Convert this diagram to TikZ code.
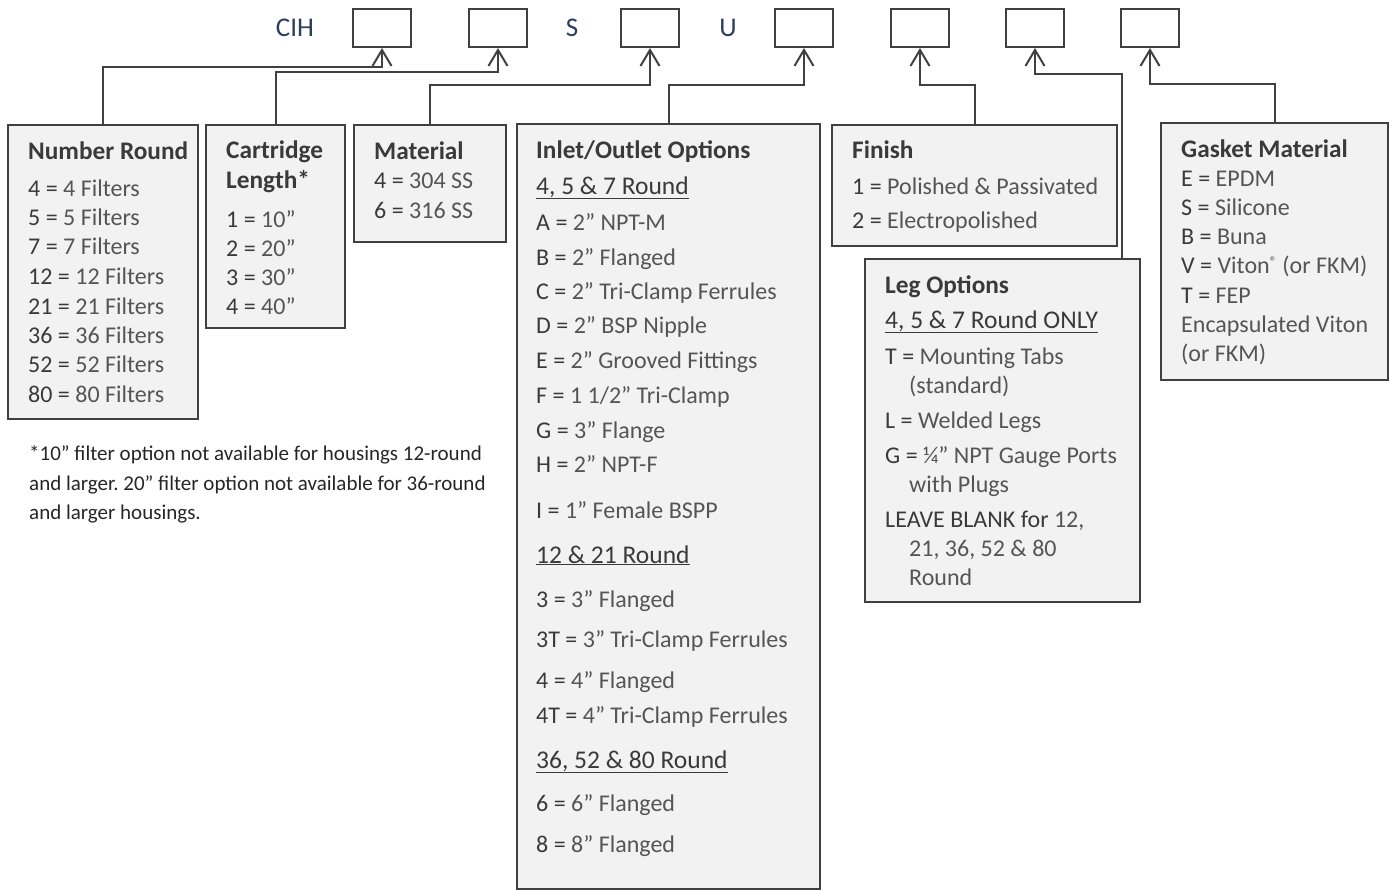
\documentclass[tikz,border=0pt]{standalone}
\usepackage{fontspec}
\setmainfont{Carlito}
\usetikzlibrary{arrows.meta}
\definecolor{linec}{HTML}{404040}
\definecolor{panelc}{HTML}{F2F2F2}
\definecolor{keyc}{HTML}{3A3A3A}
\definecolor{valc}{HTML}{555555}
\definecolor{navy}{HTML}{2B3E5E}
\definecolor{notec}{HTML}{262626}
\frenchspacing
\newcommand\bodyf{\fontsize{24}{28}\selectfont}
\newcommand\titlef{\fontsize{25.3}{30}\selectfont\bfseries}
\newcommand\notef{\fontsize{21}{25}\selectfont}
\newcommand\K[1]{\textcolor{keyc}{#1}}
\newcommand\U[1]{\textcolor{keyc}{\fontsize{25.5}{30}\selectfont\underline{#1}}}
\newcommand\reg{{\fontsize{14}{14}\selectfont\raisebox{7pt}{®}}}
\tikzset{
  slot/.style={draw=linec, line width=2pt, fill=white, minimum width=58pt, minimum height=38pt, inner sep=0pt},
  panel/.style={draw=linec, line width=2pt, fill=panelc, inner sep=0pt, anchor=north west},
  ln/.style={anchor=base west, inner sep=0pt, text=valc, font=\bodyf},
  ttl/.style={anchor=base west, inner sep=0pt, text=keyc, font=\titlef},
  note/.style={anchor=base west, inner sep=0pt, text=notec, font=\notef},
  hdr/.style={inner sep=0pt, text=navy, font=\fontsize{27}{30}\selectfont},
  conn/.style={draw=linec, line width=2pt, -{Straight Barb[length=16pt,width=19pt,line width=2pt]}}
}
\begin{document}
\begin{tikzpicture}[x=1pt,y=-1pt]
\useasboundingbox (0,0) rectangle (1389,889);
% header
\node[hdr] (cih) at (295,28) {CIH};
\node[hdr] (hs) at (572,28) {S};
\node[hdr] (hu) at (728,28) {U};
\node[slot] (s1) at (382,28) {};
\node[slot] (s2) at (498,28) {};
\node[slot] (s3) at (650,28) {};
\node[slot] (s4) at (804,28) {};
\node[slot] (s5) at (920,28) {};
\node[slot] (s6) at (1035,28) {};
\node[slot] (s7) at (1150,28) {};
% panels
\node[panel, minimum width=190pt, minimum height=294pt] (nr) at (7,124) {};
\node[panel, minimum width=139pt, minimum height=203pt] (cl) at (205,124) {};
\node[panel, minimum width=152pt, minimum height=117pt] (mt) at (353,124) {};
\node[panel, minimum width=303pt, minimum height=765pt] (io) at (516,123) {};
\node[panel, minimum width=285pt, minimum height=121pt] (fn) at (831,124) {};
\node[panel, minimum width=275pt, minimum height=343pt] (lg) at (864,258) {};
\node[panel, minimum width=227pt, minimum height=257pt] (gk) at (1160,122) {};
% connector levels
\coordinate (y67) at (0,67);
\coordinate (y72) at (0,72);
\coordinate (y85) at (0,85);
\coordinate (y74) at (0,74);
\coordinate (y84) at (0,84);
\coordinate (legx) at (1122,0);
\draw[conn] (nr.north) |- (s1.south |- y67) -- (s1.south);
\draw[conn] (cl.north) |- (s2.south |- y72) -- (s2.south);
\draw[conn] (mt.north) |- (s3.south |- y85) -- (s3.south);
\draw[conn] (io.north) |- (s4.south |- y85) -- (s4.south);
\draw[conn] (fn.north) |- (s5.south |- y85) -- (s5.south);
\draw[conn] (legx |- lg.north) |- (s6.south |- y74) -- (s6.south);
\draw[conn] (gk.north) |- (s7.south |- y84) -- (s7.south);
% Number Round
\node[ttl] (nrt) at (28,159) {Number Round};
\node[ln] (nr1) at (28,196) {\K{4 =} 4 Filters};
\node[ln] (nr2) at (28,225) {\K{5 =} 5 Filters};
\node[ln] (nr3) at (28,254) {\K{7 =} 7 Filters};
\node[ln] (nr4) at (28,284) {\K{12 =} 12 Filters};
\node[ln] (nr5) at (28,314) {\K{21 =} 21 Filters};
\node[ln] (nr6) at (28,343) {\K{36 =} 36 Filters};
\node[ln] (nr7) at (28,372) {\K{52 =} 52 Filters};
\node[ln] (nr8) at (28,402) {\K{80 =} 80 Filters};
% Cartridge
\node[ttl] (clt1) at (226,158) {Cartridge};
\node[ttl] (clt2) at (226,188) {Length*};
\node[ln] (cl1) at (226,227) {\K{1 =} 10”};
\node[ln] (cl2) at (226,256) {\K{2 =} 20”};
\node[ln] (cl3) at (226,285) {\K{3 =} 30”};
\node[ln] (cl4) at (226,314) {\K{4 =} 40”};
% Material
\node[ttl] (mtt) at (374,159) {Material};
\node[ln] (mt1) at (374,188) {\K{4 =} 304 SS};
\node[ln] (mt2) at (374,218) {\K{6 =} 316 SS};
% Inlet/Outlet
\node[ttl] (iot) at (536,158) {Inlet/Outlet Options};
\node[ln] (ioh1) at (536,194) {\U{4, 5 \& 7 Round}};
\node[ln] (io1) at (536,230) {\K{A =} 2” NPT-M};
\node[ln] (io2) at (536,265) {\K{B =} 2” Flanged};
\node[ln] (io3) at (536,299) {\K{C =} 2” Tri-Clamp Ferrules};
\node[ln] (io4) at (536,333) {\K{D =} 2” BSP Nipple};
\node[ln] (io5) at (536,368) {\K{E =} 2” Grooved Fittings};
\node[ln] (io6) at (536,403) {\K{F =} 1 1/2” Tri-Clamp};
\node[ln] (io7) at (536,438) {\K{G =} 3” Flange};
\node[ln] (io8) at (536,472) {\K{H =} 2” NPT-F};
\node[ln] (io9) at (536,518) {\K{I =} 1” Female BSPP};
\node[ln] (ioh2) at (536,563) {\U{12 \& 21 Round}};
\node[ln] (io10) at (536,607) {\K{3 =} 3” Flanged};
\node[ln] (io11) at (536,647) {\K{3T =} 3” Tri-Clamp Ferrules};
\node[ln] (io12) at (536,688) {\K{4 =} 4” Flanged};
\node[ln] (io13) at (536,723) {\K{4T =} 4” Tri-Clamp Ferrules};
\node[ln] (ioh3) at (536,768) {\U{36, 52 \& 80 Round}};
\node[ln] (io14) at (536,811) {\K{6 =} 6” Flanged};
\node[ln] (io15) at (536,852) {\K{8 =} 8” Flanged};
% Finish
\node[ttl] (fnt) at (852,158) {Finish};
\node[ln] (fn1) at (852,194) {\K{1 =} Polished \& Passivated};
\node[ln] (fn2) at (852,228) {\K{2 =} Electropolished};
% Leg options
\node[ttl] (lgt) at (885,293) {Leg Options};
\node[ln] (lgh) at (885,328) {\U{4, 5 \& 7 Round ONLY}};
\node[ln] (lg1) at (885,364) {\K{T =} Mounting Tabs};
\node[ln] (lg1b) at (909,393) {(standard)};
\node[ln] (lg2) at (885,428) {\K{L =} Welded Legs};
\node[ln] (lg3) at (885,463) {\K{G =} ¼” NPT Gauge Ports};
\node[ln] (lg3b) at (909,492) {with Plugs};
\node[ln] (lg4) at (885,527) {\K{LEAVE BLANK for} 12,};
\node[ln] (lg4b) at (909,556) {21, 36, 52 \& 80};
\node[ln] (lg4c) at (909,585) {Round};
% Gasket
\node[ttl] (gkt) at (1181,157) {Gasket Material};
\node[ln] (gk1) at (1181,186) {\K{E =} EPDM};
\node[ln] (gk2) at (1181,215) {\K{S =} Silicone};
\node[ln] (gk3) at (1181,244) {\K{B =} Buna};
\node[ln] (gk4) at (1181,273) {\K{V =} Viton\reg\ (or FKM)};
\node[ln] (gk5) at (1181,303) {\K{T =} FEP};
\node[ln] (gk6) at (1181,332) {Encapsulated Viton};
\node[ln] (gk7) at (1181,361) {(or FKM)};
% footnote
\node[note] (n1) at (29,460) {*10” filter option not available for housings 12-round};
\node[note] (n2) at (29,490) {and larger. 20” filter option not available for 36-round};
\node[note] (n3) at (29,519) {and larger housings.};
\end{tikzpicture}
\end{document}
